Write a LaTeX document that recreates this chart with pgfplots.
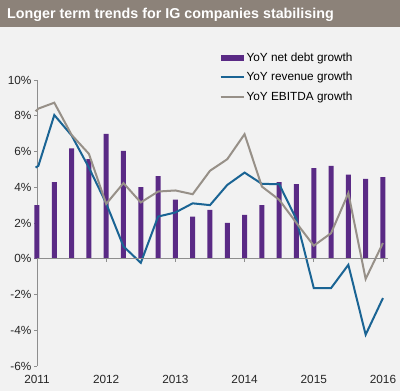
\documentclass[border=0pt]{standalone}
\usepackage{pgfplots}
\pgfplotsset{compat=1.18}
\usepackage{fontspec}
\setmainfont{Liberation Sans}
\definecolor{bg}{HTML}{F2F2F2}
\definecolor{titlebg}{HTML}{8C8279}
\definecolor{debt}{HTML}{5A2A85}
\definecolor{rev}{HTML}{1A6494}
\definecolor{ebitda}{HTML}{979088}
\definecolor{axisgray}{HTML}{8E8E8E}
\begin{document}
\begin{tikzpicture}[x=1pt,y=1pt]
\fill[bg] (0,0) rectangle (400,391);
\fill[titlebg] (0,364) rectangle (400,391);
\node[anchor=base west, inner sep=0pt, text=white, font=\bfseries\fontsize{14.3}{16}\selectfont] at (7,372) {Longer term trends for IG companies stabilising};
\begin{axis}[
  at={(37pt,25pt)}, anchor=south west,
  scale only axis, width=350.8pt, height=286pt,
  xmin=2011, xmax=2016.07, ymin=-6, ymax=10,
  axis x line=none, axis y line*=left,
  y axis line style={draw=axisgray, line width=0.8pt},
  ytick={-6,-4,...,10},
  yticklabel={\pgfmathprintnumber{\tick}\%},
  ytick style={draw=axisgray, line width=0.8pt},
  tick align=outside, major tick length=3pt,
  /pgf/number format/assume math mode=true,
  /pgf/number format/1000 sep={},
  tick label style={font=\fontsize{11.8}{13}\selectfont, text=black!85},
  yticklabel style={xshift=1pt},
  clip=false,
  legend style={at={(0.52,1.103)}, anchor=north west, draw=none, fill=none,
    font=\fontsize{11.8}{13}\selectfont, row sep=5.5pt, inner sep=0pt,
    legend cell align=left},
]
\addplot[ybar, bar width=5pt, fill=debt, draw=none,
  legend image code/.code={\fill[debt] (0pt,-3pt) rectangle (23pt,3pt);}]
coordinates {
(2011.00,3.0) (2011.25,4.28) (2011.50,6.18) (2011.75,5.58)
(2012.00,6.98) (2012.25,6.03) (2012.50,4.0) (2012.75,4.62)
(2013.00,3.31) (2013.25,2.36) (2013.50,2.74) (2013.75,2.0)
(2014.00,2.46) (2014.25,3.0) (2014.50,4.28) (2014.75,4.17)
(2015.00,5.07) (2015.25,5.2) (2015.50,4.71) (2015.75,4.47)
(2016.00,4.56)};
\addlegendentry{YoY net debt growth}
\addplot[rev, line width=2pt, mark=none, sharp plot,
  legend image code/.code={\draw[rev, line width=2pt] (0pt,0pt) -- (23pt,0pt);}]
coordinates {
(2010.98,5.1) (2011.02,5.2) (2011.25,8.04) (2011.50,6.9) (2011.75,5.1)
(2012.00,3.1) (2012.25,0.69) (2012.50,-0.23) (2012.75,2.36)
(2013.00,2.59) (2013.25,3.1) (2013.50,3.0) (2013.75,4.13)
(2014.00,4.82) (2014.25,4.19) (2014.50,4.17) (2014.75,2.2)
(2015.00,-1.64) (2015.25,-1.64) (2015.50,-0.34) (2015.75,-4.25)
(2016.00,-2.2)};
\addlegendentry{YoY revenue growth}
\addplot[ebitda, line width=2pt, mark=none, sharp plot,
  legend image code/.code={\draw[ebitda, line width=2pt] (0pt,0pt) -- (23pt,0pt);}]
coordinates {
(2010.98,8.25) (2011.02,8.4) (2011.25,8.73) (2011.50,6.93) (2011.75,5.87)
(2012.00,3.07) (2012.25,4.23) (2012.50,3.15) (2012.75,3.76)
(2013.00,3.82) (2013.25,3.61) (2013.50,4.92) (2013.75,5.57)
(2014.00,6.97) (2014.25,4.04) (2014.50,3.3) (2014.75,2.0)
(2015.00,0.73) (2015.25,1.43) (2015.50,3.67) (2015.75,-1.13)
(2016.00,0.88)};
\addlegendentry{YoY EBITDA growth}
\draw[axisgray, line width=0.8pt] (axis cs:2011,0) -- (axis cs:2016.07,0);
\pgfplotsinvokeforeach{2011,2012,2013,2014,2015,2016}{
  \draw[axisgray, line width=0.8pt] (axis cs:#1,0) -- ++(0pt,-3pt);
  \node[anchor=north, font=\fontsize{11.8}{13}\selectfont, text=black!85, inner sep=0pt] at ([yshift=-9.5pt]axis cs:#1,-6) {#1};
}
\end{axis}
\end{tikzpicture}
\end{document}
